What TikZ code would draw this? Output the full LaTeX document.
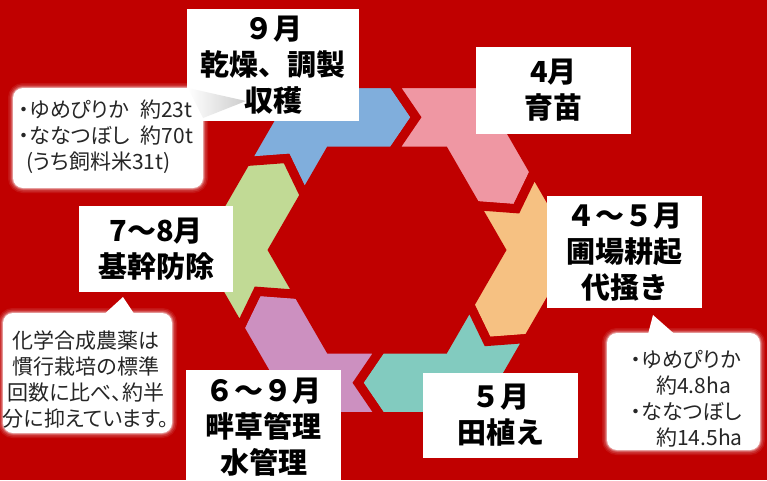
\documentclass[tikz,border=0pt]{standalone}
\usepackage{fontspec}
\newfontfamily\jp{Noto Sans CJK JP}
\newfontfamily\jpp[RawFeature=+palt]{Noto Sans CJK JP}
\usetikzlibrary{calc}
\definecolor{bg}{HTML}{C00000}
\definecolor{cblue}{HTML}{80AEDC}
\definecolor{cpink}{HTML}{EF97A3}
\definecolor{corange}{HTML}{F6C182}
\definecolor{cteal}{HTML}{82CBBF}
\definecolor{cpurple}{HTML}{CC90C0}
\definecolor{cgreen}{HTML}{C1DA95}
\definecolor{ctxt}{HTML}{262626}
\begin{document}
\begin{tikzpicture}[x=1pt,y=-1pt,
  tbox/.style={fill=white, inner sep=0pt, align=center, text=black,
    font=\jp\bfseries\fontsize{29}{36}\selectfont},
  ctext/.style={inner sep=0pt, text=ctxt, font=\jpp\fontsize{21}{26}\selectfont},
  bubble/.style={fill=white, rounded corners=10pt},
  halo/.style={draw=white, rounded corners=10pt},
  seg/.style={draw=bg, line width=9pt, line join=miter}]
\fill[bg] (0,0) rectangle (767,480);
\useasboundingbox (0,0) rectangle (767,480);
\clip (0,0) rectangle (767,480);

% ring geometry
\coordinate (c) at (387,250);
\def\Ho{166.5}\def\Hi{99}\def\Hm{132.75}\def\bb{6}\def\dd{23}
\foreach \i/\p in {1/-150,2/-90,3/-30,4/30,5/90,6/150}{
  \coordinate (O\i) at ($(c)+(\p:\Ho)+(\p+90:\bb)$);
  \coordinate (I\i) at ($(c)+(\p:\Hi)+(\p+90:\bb)$);
  \coordinate (T\i) at ($(c)+(\p:\Hm)+(\p+90:\bb+\dd)$);
  \coordinate (VO\i) at ($(c)+(\p+30:\Ho/0.866025)$);
  \coordinate (VI\i) at ($(c)+(\p+30:\Hi/0.866025)$);
}
\filldraw[seg, fill=cblue]   (O1)--(VO1)--(O2)--(T2)--(I2)--(VI1)--(I1)--(T1)--cycle;
\filldraw[seg, fill=cpink]   (O2)--(VO2)--(O3)--(T3)--(I3)--(VI2)--(I2)--(T2)--cycle;
\filldraw[seg, fill=corange] (O3)--(VO3)--(O4)--(T4)--(I4)--(VI3)--(I3)--(T3)--cycle;
\filldraw[seg, fill=cteal]   (O4)--(VO4)--(O5)--(T5)--(I5)--(VI4)--(I4)--(T4)--cycle;
\filldraw[seg, fill=cpurple] (O5)--(VO5)--(O6)--(T6)--(I6)--(VI5)--(I5)--(T5)--cycle;
\filldraw[seg, fill=cgreen]  (O6)--(VO6)--(O1)--(T1)--(I1)--(VI6)--(I6)--(T6)--cycle;

% month boxes
\node[tbox, minimum width=172pt, minimum height=112pt] (b9) at (273,65) {９月\\乾燥、調製\\収穫};
\node[tbox, minimum width=155pt, minimum height=87pt] (b4) at (553.5,90.5) {4月\\育苗};
\node[tbox, minimum width=155pt, minimum height=112pt] (b45) at (624.5,252) {４～５月\\圃場耕起\\代掻き};
\node[tbox, minimum width=155pt, minimum height=85pt] (b5) at (500.5,415.5) {５月\\田植え};
\node[tbox, minimum width=155pt, minimum height=114pt] (b69) at (263.5,427) {６～９月\\畔草管理\\水管理};
\node[tbox, minimum width=154pt, minimum height=86pt] (b78) at (156,249) {7～8月\\基幹防除};

% callout A
\foreach \w/\o in {10/.08,7/.12,4/.2,2/.35}{
  \path[halo, line width=\w pt, draw opacity=\o] (13,88) rectangle (203,188);}
\path[bubble] (13,88) rectangle (203,188);
\shade[left color=white, right color=black!20] (188,88) -- (246,101) -- (203,118) -- cycle;
\node[ctext, align=left, anchor=west] (ta) at (19,137)
  {・ゆめぴりか\hspace{11pt}約23t\\・ななつぼし\hspace{11pt}約70t\\\hspace*{7pt}(うち飼料米31t)};

% callout B
\foreach \w/\o in {10/.08,7/.12,4/.2,2/.35}{
  \path[halo, line width=\w pt, draw opacity=\o] (3,313) rectangle (172,433);}
\path[bubble] (3,313) rectangle (172,433);
\fill[white] (100,318) -- (123,297) -- (137,318) -- cycle;
\node[ctext, align=center] (tb) at (86,380)
  {化学合成農薬は\\慣行栽培の標準\\回数に比べ、約半\\分に抑えています。};

% callout C
\foreach \w/\o in {10/.08,7/.12,4/.2,2/.35}{
  \path[halo, line width=\w pt, draw opacity=\o] (607,333) rectangle (760,450);}
\path[bubble] (607,333) rectangle (760,450);
\fill[white] (647,338) -- (653,315) -- (679,338) -- cycle;
\node[ctext, align=left, anchor=west] (tc) at (631,399)
  {・ゆめぴりか\\\hspace*{25pt}約4.8ha\\・ななつぼし\\\hspace*{25pt}約14.5ha};
\end{tikzpicture}
\end{document}
